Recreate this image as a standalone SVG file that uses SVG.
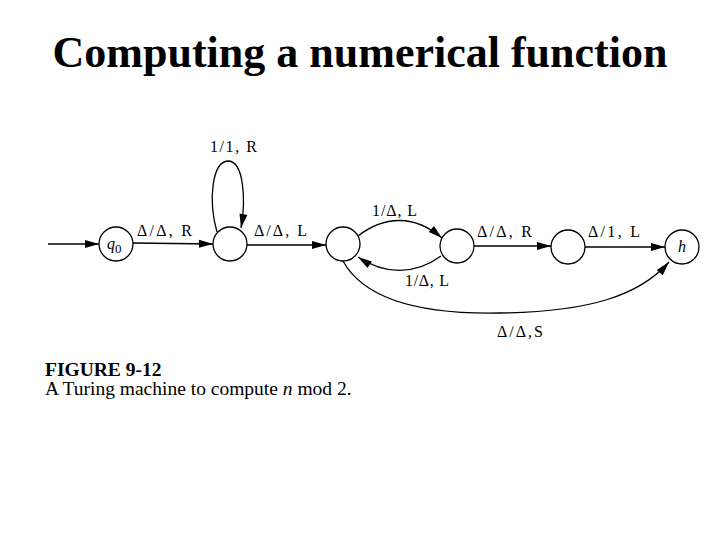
<svg xmlns="http://www.w3.org/2000/svg" width="720" height="540" viewBox="0 0 720 540">
<style>
.node{fill:#fff;stroke:#000;stroke-width:1.3}
.edge{fill:none;stroke:#000;stroke-width:1.3}
.lbl{font-family:"Liberation Serif","Times New Roman",serif;font-size:16px;fill:#000}
.title{font-family:"Liberation Serif","Times New Roman",serif;font-size:44px;font-weight:bold;fill:#000}
.cap{font-family:"Liberation Serif","Times New Roman",serif;font-size:19.5px;fill:#000}
</style>
<defs>
<marker id="arr" viewBox="0 0 14 10" refX="14" refY="5" markerWidth="15" markerHeight="10" markerUnits="userSpaceOnUse" orient="auto">
<path d="M0,1 L14,5 L0,9 z" fill="#000"/>
</marker>
</defs>
<rect width="720" height="540" fill="#fff"/>
<text class="title" x="360" y="67" text-anchor="middle">Computing a numerical function</text>

<g id="connectors">
<line class="edge" x1="48" y1="244" x2="99" y2="244" marker-end="url(#arr)"/>
<line class="edge" x1="133" y1="243" x2="213" y2="244" marker-end="url(#arr)"/>
<path class="edge" d="M217,232 C208,200 212,162 228,161 C244,161 246,200 241,228" marker-end="url(#arr)"/>
<line class="edge" x1="247" y1="245" x2="326" y2="245" marker-end="url(#arr)"/>
<path class="edge" d="M358,236 C385,215 415,215 442,238" marker-end="url(#arr)"/>
<path class="edge" d="M441,256 C415,275 385,275 358,257" marker-end="url(#arr)"/>
<line class="edge" x1="474" y1="246" x2="551" y2="246" marker-end="url(#arr)"/>
<line class="edge" x1="585" y1="247" x2="665" y2="247" marker-end="url(#arr)"/>
<path class="edge" d="M343,261 C370,310 450,314 500,313 C590,312 640,295 669,262" marker-end="url(#arr)"/>
</g>

<g id="q0"><circle class="node" cx="116" cy="244" r="17"/><text class="lbl" x="107" y="249" font-style="italic" font-size="18">q<tspan font-style="normal" font-size="13" dy="4">0</tspan></text></g>
<g id="s1"><circle class="node" cx="230" cy="244" r="17"/></g>
<g id="s2"><circle class="node" cx="343" cy="244" r="17"/></g>
<g id="s3"><circle class="node" cx="457" cy="246" r="17"/></g>
<g id="s4"><circle class="node" cx="568" cy="247" r="17"/></g>
<g id="h"><circle class="node" cx="682" cy="247" r="17"/><text class="lbl" x="682" y="252" font-style="italic" font-size="17" text-anchor="middle">h</text></g>

<g id="labels">
<text class="lbl" x="137" y="236" textLength="55" lengthAdjust="spacing">Δ/Δ, R</text>
<text class="lbl" x="210" y="152" textLength="47" lengthAdjust="spacing">1/1, R</text>
<text class="lbl" x="254" y="236" textLength="53" lengthAdjust="spacing">Δ/Δ, L</text>
<text class="lbl" x="372" y="216" textLength="45" lengthAdjust="spacing">1/Δ, L</text>
<text class="lbl" x="405" y="286" textLength="44" lengthAdjust="spacing">1/Δ, L</text>
<text class="lbl" x="477" y="237" textLength="55" lengthAdjust="spacing">Δ/Δ, R</text>
<text class="lbl" x="588" y="237" textLength="52" lengthAdjust="spacing">Δ/1, L</text>
<text class="lbl" x="497" y="337" textLength="46" lengthAdjust="spacing">Δ/Δ,S</text>
</g>

<text class="cap" x="45" y="376" font-weight="bold">FIGURE 9-12</text>
<text class="cap" x="45" y="395">A Turing machine to compute <tspan font-style="italic">n</tspan> mod 2.</text>
</svg>
